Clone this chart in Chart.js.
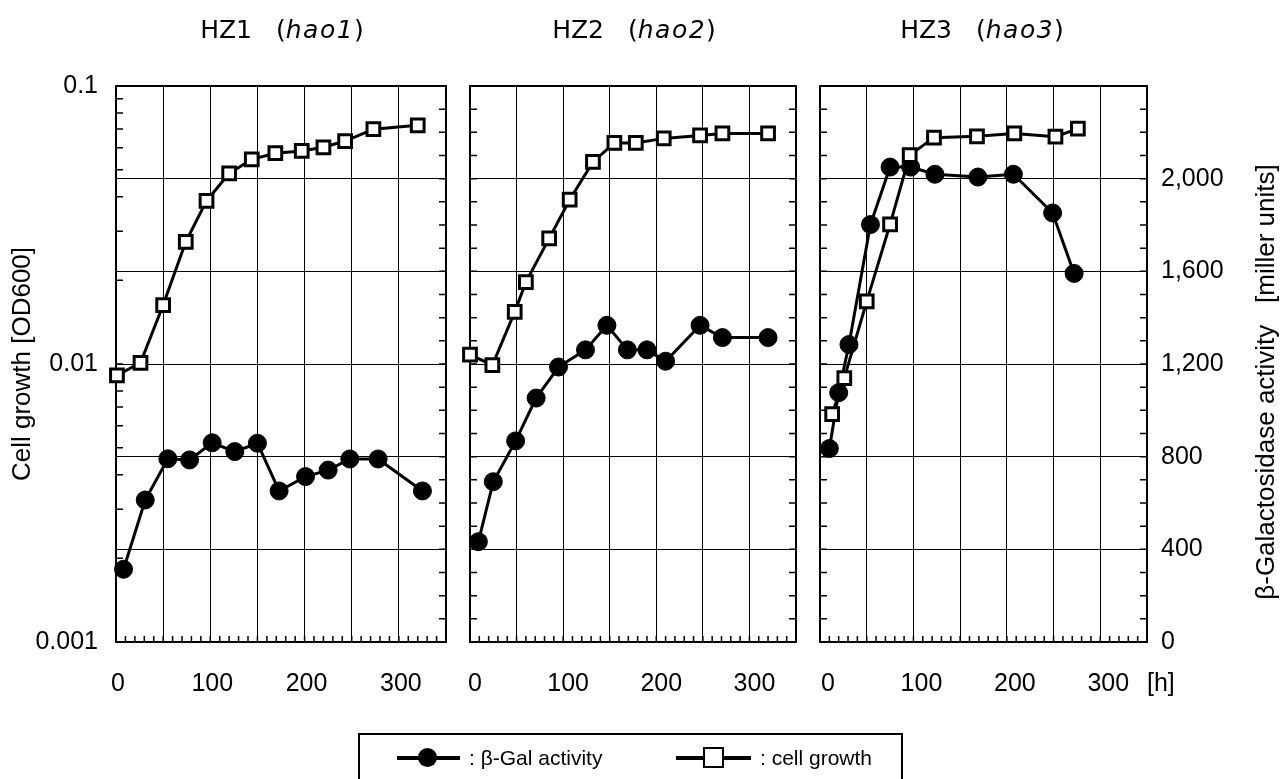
<!DOCTYPE html>
<html lang="en">
<head>
<meta charset="UTF-8">
<title>β-Gal activity and cell growth of HZ1, HZ2, HZ3</title>
<style>
  body {
    margin: 0;
    width: 1283px;
    height: 779px;
    position: relative;
    overflow: hidden;
    background: #fff;
    font-family: "Liberation Sans", Arial, sans-serif;
    color: #000;
  }
  canvas { position: absolute; top: 0; }
  .title {
    position: absolute;
    top: 15px;
    width: 400px;
    height: 30px;
    line-height: 30px;
    text-align: center;
    font-family: "DejaVu Sans", sans-serif;
    font-size: 25px;
    white-space: nowrap;
  }
  .title .par { margin-left: 24px; }
  .title i { letter-spacing: 1.5px; }
  .right-title {
    position: absolute;
    left: 1035px;
    top: 367px;
    width: 460px;
    height: 30px;
    line-height: 30px;
    text-align: center;
    font-size: 26px;
    white-space: nowrap;
    transform: rotate(-90deg);
  }
  .unit { position: absolute; left: 1147px; top: 667px; font-size: 25px; line-height: 30px; }
  #legend {
    position: absolute;
    left: 358px;
    top: 733px;
    width: 545px;
    height: 70px;
    border: 2px solid #000;
    box-sizing: border-box;
  }
  .bar { position: absolute; height: 4px; background: #000; }
  .dot { position: absolute; width: 19px; height: 19px; border-radius: 50%; background: #000; }
  .box { position: absolute; width: 21px; height: 21px; border: 2px solid #000; background: #fff; box-sizing: border-box; }
  .lbl { position: absolute; font-size: 21px; line-height: 26px; white-space: nowrap; }
</style>
</head>
<body>
  <canvas id="hz1" width="458" height="779" style="left:0px"></canvas>
  <canvas id="hz2" width="350" height="779" style="left:458px"></canvas>
  <canvas id="hz3" width="475" height="779" style="left:808px"></canvas>

  <div class="title" style="left:82px">HZ1<span class="par">(<i>hao1</i>)</span></div>
  <div class="title" style="left:434px">HZ2<span class="par">(<i>hao2</i>)</span></div>
  <div class="title" style="left:782px">HZ3<span class="par">(<i>hao3</i>)</span></div>
  <div class="right-title">β-Galactosidase activity&nbsp;&nbsp;&nbsp;[miller units]</div>
  <div class="unit">[h]</div>

  <div id="legend"></div>
  <div class="bar" style="left:397px; top:756px; width:63px"></div>
  <div class="dot" style="left:418px; top:748px"></div>
  <div class="lbl" style="left:469px; top:745px">: β-Gal activity</div>
  <div class="bar" style="left:676px; top:756px; width:75px"></div>
  <div class="box" style="left:703px; top:747px"></div>
  <div class="lbl" style="left:760px; top:745px">: cell growth</div>

  <script src="https://cdn.jsdelivr.net/npm/chart.js"></script>
  <script>
    // HZ1 (hao1)
    const hz1GrowthHours = [1, 26, 50, 74, 96, 120, 144, 169, 197, 220, 243, 273, 320];
    const hz1GrowthOD = [0.0091, 0.0101, 0.0163, 0.0275, 0.0386, 0.0485, 0.0545, 0.0573, 0.0584, 0.0602, 0.0634, 0.0699, 0.0722];
    const hz1GalHours = [8, 31, 55, 78, 102, 126, 150, 173, 201, 225, 248, 278, 325];
    const hz1GalActivity = [314, 613, 791, 786, 860, 822, 858, 652, 714, 742, 790, 790, 652];

    // HZ2 (hao2)
    const hz2GrowthHours = [0, 24, 48, 60, 85, 107, 132, 155, 178, 208, 247, 271, 320];
    const hz2GrowthOD = [0.0108, 0.0099, 0.0154, 0.0197, 0.0283, 0.039, 0.0533, 0.0624, 0.0624, 0.0648, 0.0664, 0.0675, 0.0675];
    const hz2GalHours = [9, 25, 49, 71, 95, 124, 147, 169, 190, 210, 247, 271, 320];
    const hz2GalActivity = [433, 692, 868, 1053, 1187, 1261, 1367, 1261, 1261, 1212, 1367, 1314, 1314];

    // HZ3 (hao3)
    const hz3GrowthHours = [13, 26, 50, 75, 96, 122, 168, 208, 252, 276];
    const hz3GrowthOD = [0.0066, 0.0089, 0.0168, 0.0318, 0.0564, 0.0652, 0.0659, 0.0675, 0.0657, 0.0703];
    const hz3GalHours = [10, 20, 31, 54, 75, 97, 123, 169, 207, 249, 272];
    const hz3GalActivity = [835, 1076, 1284, 1802, 2050, 2050, 2019, 2007, 2019, 1852, 1591];

    // axis ticks
    const hourTicks = [0, 100, 200, 300];
    const hourTickLabels = ['0', '100', '200', '300'];
    const odTicks = [0.001, 0.01, 0.1];
    const odTickLabels = ['0.001', '0.01', '0.1'];
    const activityTicks = [0, 400, 800, 1200, 1600, 2000];
    const activityTickLabels = ['0', '400', '800', '1,200', '1,600', '2,000'];

    Chart.defaults.font.family = '"Liberation Sans", Arial, sans-serif';
    Chart.defaults.color = '#000';
    Chart.defaults.animation = false;

    const tickFont = { size: 25 };

    const toPoints = (xs, ys) => xs.map((x, i) => ({ x: x, y: ys[i] }));

    // frame + small inward tick marks, like the original plot
    const frameTicks = {
      id: 'frameTicks',
      beforeDatasetsDraw(chart, args, opts) {
        const { ctx, chartArea: a, scales } = chart;
        const x = scales.x, y = scales.y, y2 = scales.y2;
        ctx.save();
        ctx.strokeStyle = '#000';
        ctx.lineWidth = 1.5;
        ctx.beginPath();
        for (let t = x.min; t <= x.max; t += 10) {
          const px = x.getPixelForValue(t);
          ctx.moveTo(px, a.bottom);
          ctx.lineTo(px, a.bottom - 6);
        }
        for (let v = y2.min; v <= y2.max; v += 100) {
          const py = y2.getPixelForValue(v);
          ctx.moveTo(a.right, py);
          ctx.lineTo(a.right - 7, py);
          if (!opts.logTicks) {
            ctx.moveTo(a.left, py);
            ctx.lineTo(a.left + 7, py);
          }
        }
        if (opts.logTicks) {
          [0.001, 0.01].forEach(dec => {
            for (let k = 1; k <= 10; k++) {
              const py = y.getPixelForValue(dec * k);
              ctx.moveTo(a.left, py);
              ctx.lineTo(a.left + 7, py);
            }
          });
        }
        ctx.stroke();
        ctx.lineWidth = 2;
        ctx.strokeRect(a.left, a.top, a.right - a.left, a.bottom - a.top);
        ctx.restore();
      }
    };

    function makePanel(id, p) {
      return new Chart(document.getElementById(id), {
        type: 'line',
        data: {
          datasets: [
            {
              label: 'cell growth',
              data: toPoints(p.growthHours, p.growthOD),
              yAxisID: 'y',
              borderColor: '#000',
              borderWidth: 3,
              pointStyle: 'rect',
              pointRadius: 9,
              pointBorderWidth: 3,
              pointBorderColor: '#000',
              pointBackgroundColor: '#fff',
              tension: 0,
              clip: false,
              order: 0
            },
            {
              label: 'β-Gal activity',
              data: toPoints(p.galHours, p.galActivity),
              yAxisID: 'y2',
              borderColor: '#000',
              borderWidth: 3,
              pointStyle: 'circle',
              pointRadius: 9,
              pointBorderWidth: 1,
              pointBorderColor: '#000',
              pointBackgroundColor: '#000',
              tension: 0,
              clip: false,
              order: 1
            }
          ]
        },
        options: {
          responsive: false,
          layout: { padding: p.padding },
          plugins: {
            legend: { display: false },
            tooltip: { enabled: false },
            frameTicks: { logTicks: p.showOD }
          },
          scales: {
            x: {
              type: 'linear',
              min: 0,
              max: 350,
              grid: { color: '#000', lineWidth: 1, drawTicks: false },
              border: { display: false },
              ticks: {
                stepSize: 50,
                autoSkip: false,
                maxRotation: 0,
                padding: 27,
                labelOffset: p.labelOffset,
                font: tickFont,
                callback: v => {
                  const i = hourTicks.indexOf(v);
                  return i >= 0 ? hourTickLabels[i] : '';
                }
              },
              afterFit: s => {
                s.height = 779 - 642;
                s.paddingLeft = 0;
                s.paddingRight = 0;
              }
            },
            y: {
              type: 'logarithmic',
              position: 'left',
              min: 0.001,
              max: 0.1,
              display: p.showOD,
              afterBuildTicks: s => { s.ticks = odTicks.map(v => ({ value: v })); },
              grid: { display: false, drawTicks: false },
              border: { display: false },
              ticks: {
                autoSkip: false,
                padding: 18,
                font: tickFont,
                callback: (v, i) => odTickLabels[i]
              },
              title: {
                display: p.showOD,
                text: 'Cell growth [OD600]',
                font: { size: 26 },
                padding: { top: 7, bottom: 0 }
              },
              afterFit: s => { s.width = p.showOD ? 116 : 0; }
            },
            y2: {
              type: 'linear',
              position: 'right',
              min: 0,
              max: 2400,
              grid: { color: '#000', lineWidth: 1, drawTicks: false },
              border: { display: false },
              ticks: {
                display: p.showActivity,
                stepSize: 400,
                autoSkip: false,
                padding: 14,
                font: tickFont,
                callback: v => {
                  const i = activityTicks.indexOf(v);
                  return i >= 0 ? activityTickLabels[i] : '';
                }
              },
              afterFit: s => { s.width = p.rightWidth; }
            }
          }
        },
        plugins: [frameTicks]
      });
    }

    makePanel('hz1', {
      growthHours: hz1GrowthHours, growthOD: hz1GrowthOD,
      galHours: hz1GalHours, galActivity: hz1GalActivity,
      showOD: true, showActivity: false, rightWidth: 0, labelOffset: 2,
      padding: { top: 86, right: 11, left: 0, bottom: 0 }
    });
    makePanel('hz2', {
      growthHours: hz2GrowthHours, growthOD: hz2GrowthOD,
      galHours: hz2GalHours, galActivity: hz2GalActivity,
      showOD: false, showActivity: false, rightWidth: 0, labelOffset: 5,
      padding: { top: 86, right: 9, left: 11, bottom: 0 }
    });
    makePanel('hz3', {
      growthHours: hz3GrowthHours, growthOD: hz3GrowthOD,
      galHours: hz3GalHours, galActivity: hz3GalActivity,
      showOD: false, showActivity: true, rightWidth: 136, labelOffset: 8,
      padding: { top: 86, right: 0, left: 9, bottom: 0 }
    });
  </script>
</body>
</html>
